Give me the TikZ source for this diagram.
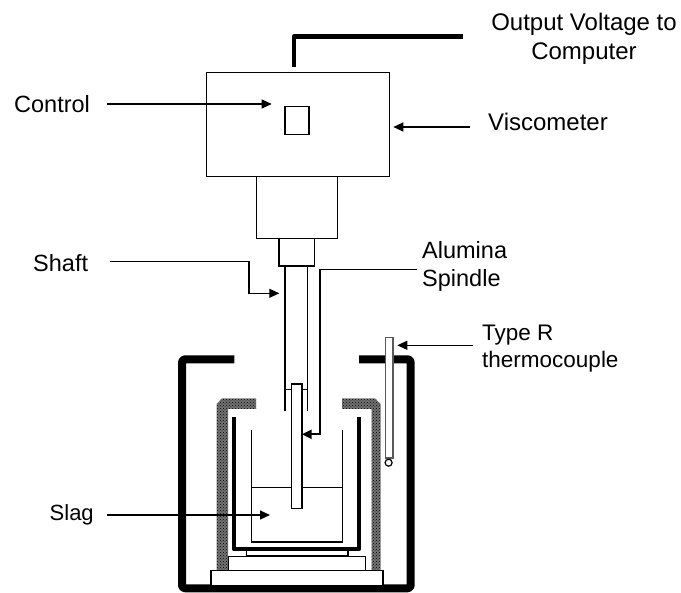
\documentclass[tikz,border=0pt]{standalone}
\usepackage{fontspec}
\setmainfont{Liberation Sans}
\usetikzlibrary{arrows.meta,patterns}
\begin{document}
\begin{tikzpicture}[x=1pt,y=-1pt,
  part/.style={draw=black,line width=1.3pt,fill=none},
  thickwire/.style={draw=black,line width=4pt,line join=round},
  heavy/.style={draw=black,line width=8pt,line join=round},
  pointer/.style={draw=black,line width=1.2pt,-{Triangle[length=10pt,width=9pt]}},
  stipple/.style={fill=black!55,postaction={pattern=crosshatch dots,pattern color=black}},
  lbl/.style={font=\fontsize{23.5pt}{28pt}\selectfont,inner sep=0pt,text=black}]
\useasboundingbox (0,0) rectangle (681,593);
% output wire
\draw[thickwire,line width=4.5pt] (294,66.7) -- (294,36.7) -- (463,36.7);
% viscometer
\node[part,minimum width=183.3pt,minimum height=104pt,inner sep=0pt,anchor=north west] (visc) at (205.7,71.7) {};
\node[part,minimum width=24pt,minimum height=27.7pt,inner sep=0pt,anchor=north west] (ctrl) at (284.3,106) {};
\node[part,minimum width=80.7pt,minimum height=62.3pt,inner sep=0pt,anchor=north west] (neck) at (256,175.7) {};
\node[part,minimum width=35.4pt,minimum height=27.3pt,inner sep=0pt,anchor=north west] (collar) at (278.3,238) {};
% shaft
\draw[part] (285,265.3) -- (285,411);
\draw[part] (307.7,265.3) -- (307.7,411);
\draw[part] (285,389.3) -- (307.7,389.3);
% furnace shell
\draw[heavy,rounded corners=3pt] (234.3,359.3) -- (182,359.3) -- (182,588.3) -- (410.7,588.3) -- (410.7,359.3) -- (359,359.3);
% insulation
\path[stipple] (256,398.3) -- (222,398.3) -- (216.7,404) -- (216.7,570) -- (228,570) -- (228,409) -- (256,409) -- cycle;
\path[stipple] (342,398.3) -- (375,398.3) -- (380.7,404) -- (380.7,570) -- (371.7,570) -- (371.7,409) -- (342,409) -- cycle;
% outer crucible
\draw[thickwire] (234,417.3) -- (234,549.3) -- (358.7,549.3) -- (358.7,417.3);
% inner crucible and slag
\draw[part] (251.3,430) -- (251.3,542) -- (342.7,542) -- (342.7,430);
\draw[part] (251.3,487.3) -- (342.7,487.3);
% spindle
\node[part,fill=white,minimum width=10.3pt,minimum height=124.4pt,inner sep=0pt,anchor=north west] (spindle) at (291,383.3) {};
% pedestal
\node[part,minimum width=101.6pt,minimum height=5.3pt,inner sep=0pt,anchor=north west] (ped1) at (245.7,550) {};
\node[part,minimum width=137.3pt,minimum height=14.3pt,inner sep=0pt,anchor=north west] (ped2) at (227.7,555.7) {};
\node[part,fill=white,minimum width=172pt,minimum height=15pt,inner sep=0pt,anchor=north west] (ped3) at (210.3,570) {};
% thermocouple
\node[draw=black!65,line width=1.3pt,fill=white,minimum width=7.3pt,minimum height=120.6pt,inner sep=0pt,anchor=north west] (tc) at (385,336.7) {};
\node[circle,draw=black,line width=1.2pt,fill=white,minimum size=7pt,inner sep=0pt] (tcbead) at (388.6,462.7) {};
% labels
\node[lbl,align=center,anchor=center,font=\fontsize{24pt}{29pt}\selectfont] (lout) at (584,38.5) {Output Voltage to\\Computer};
\node[lbl,anchor=west] (lctrl) at (14,104) {Control};
\node[lbl,anchor=west,font=\fontsize{24pt}{28pt}\selectfont] (lvisc) at (488,122) {Viscometer};
\node[lbl,anchor=west] (lshaft) at (33,263) {Shaft};
\node[lbl,align=left,anchor=west] (lspin) at (422,266) {Alumina\\Spindle};
\node[lbl,align=left,anchor=west,font=\fontsize{22.5pt}{27pt}\selectfont] (ltype) at (482,349) {Type R\\thermocouple};
\node[lbl,anchor=west,font=\fontsize{22pt}{24pt}\selectfont] (lslag) at (49.5,515) {Slag};
% pointers
\coordinate (cs) at (107,104); \coordinate (ce) at (271.7,104);
\draw[pointer] (cs) -- (ce);
\coordinate (vs) at (470,127); \coordinate (ve) at (393.3,127);
\draw[pointer] (vs) -- (ve);
\coordinate (ss) at (110,261.7); \coordinate (se) at (279.3,293.3);
\draw[pointer] (ss) -- (249,261.7) -- (249,293.3) -- (se);
\coordinate (ts) at (473,345.3); \coordinate (te) at (397.3,345.3);
\draw[pointer] (ts) -- (te);
\coordinate (gs) at (107,515); \coordinate (ge) at (270,515);
\draw[pointer] (gs) -- (ge);
\coordinate (as) at (416.7,269.3); \coordinate (ac) at (320,269.3); \coordinate (ad) at (320,434.3); \coordinate (ae) at (301.7,434.3);
\draw[line width=1.2pt] (as) -- (ac);
\draw[line width=2pt,-{Triangle[length=10pt,width=9pt]}] (ac) -- (ad) -- (ae);
\end{tikzpicture}
\end{document}
